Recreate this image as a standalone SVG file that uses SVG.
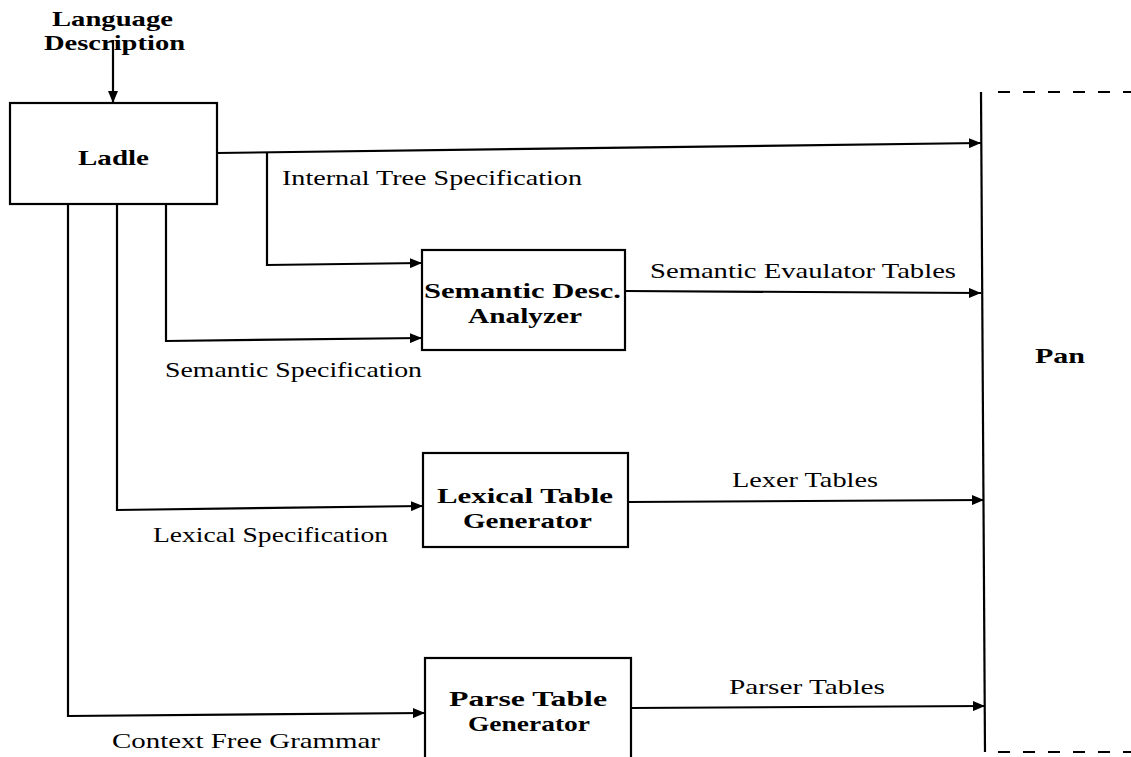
<svg xmlns="http://www.w3.org/2000/svg" width="1131" height="757" viewBox="0 0 1131 757">
<style>
.box{fill:#fff;stroke:#000;stroke-width:2.2}
.ln{fill:none;stroke:#000;stroke-width:2.2}
.dash{fill:none;stroke:#000;stroke-width:2.2;stroke-dasharray:12 13}
.bl{font-family:"Liberation Serif",serif;font-weight:bold;font-size:22px;fill:#000}
.el{font-family:"Liberation Serif",serif;font-size:21px;fill:#000}
</style>
<defs>
<marker id="ah" viewBox="0 0 12 10" refX="12" refY="5" markerWidth="12" markerHeight="10" markerUnits="userSpaceOnUse" orient="auto">
<path d="M0,0 L12,5 L0,10 Z" fill="#000"/>
</marker>
</defs>
<rect width="1131" height="757" fill="#fff"/>

<g id="connectors">
<path class="ln" d="M113,40 L113,103" marker-end="url(#ah)"/>
<path class="ln" d="M217,153 L981,143" marker-end="url(#ah)"/>
<path class="ln" d="M267,152 L267,265 L422,263" marker-end="url(#ah)"/>
<path class="ln" d="M166,204 L166,341 L422,338" marker-end="url(#ah)"/>
<path class="ln" d="M117,204 L117,510 L423,506" marker-end="url(#ah)"/>
<path class="ln" d="M68,204 L68,716 L425,713" marker-end="url(#ah)"/>
<path class="ln" d="M625,291 L981,293" marker-end="url(#ah)"/>
<path class="ln" d="M628,502 L984,500" marker-end="url(#ah)"/>
<path class="ln" d="M631,708 L985,706" marker-end="url(#ah)"/>
<text class="el" x="282" y="185" textLength="300" lengthAdjust="spacingAndGlyphs">Internal Tree Specification</text>
<text class="el" x="650" y="278" textLength="306" lengthAdjust="spacingAndGlyphs">Semantic Evaulator Tables</text>
<text class="el" x="165" y="377" textLength="257" lengthAdjust="spacingAndGlyphs">Semantic Specification</text>
<text class="el" x="732" y="487" textLength="146" lengthAdjust="spacingAndGlyphs">Lexer Tables</text>
<text class="el" x="153" y="542" textLength="235" lengthAdjust="spacingAndGlyphs">Lexical Specification</text>
<text class="el" x="729" y="694" textLength="156" lengthAdjust="spacingAndGlyphs">Parser Tables</text>
<text class="el" x="112" y="748" textLength="268" lengthAdjust="spacingAndGlyphs">Context Free Grammar</text>
</g>

<g id="input-label">
<text class="bl" x="52" y="26" textLength="121" lengthAdjust="spacingAndGlyphs">Language</text>
<text class="bl" x="44" y="50" textLength="141" lengthAdjust="spacingAndGlyphs">Description</text>
</g>

<g id="ladle">
<rect class="box" x="10" y="103" width="207" height="101"/>
<text class="bl" x="78" y="165" textLength="71" lengthAdjust="spacingAndGlyphs">Ladle</text>
</g>

<g id="semantic-desc-analyzer">
<rect class="box" x="422" y="250" width="203" height="100"/>
<text class="bl" x="424" y="298" textLength="197" lengthAdjust="spacingAndGlyphs">Semantic Desc.</text>
<text class="bl" x="468" y="323" textLength="114" lengthAdjust="spacingAndGlyphs">Analyzer</text>
</g>

<g id="lexical-table-generator">
<rect class="box" x="423" y="453" width="205" height="94"/>
<text class="bl" x="437" y="503" textLength="176" lengthAdjust="spacingAndGlyphs">Lexical Table</text>
<text class="bl" x="463" y="528" textLength="129" lengthAdjust="spacingAndGlyphs">Generator</text>
</g>

<g id="parse-table-generator">
<rect class="box" x="425" y="658" width="206" height="120"/>
<text class="bl" x="449" y="706" textLength="158" lengthAdjust="spacingAndGlyphs">Parse Table</text>
<text class="bl" x="468" y="731" textLength="122" lengthAdjust="spacingAndGlyphs">Generator</text>
</g>

<g id="pan">
<path class="ln" d="M981,92 L985,752"/>
<path class="dash" d="M998,92 L1131,92"/>
<path class="dash" d="M998,752 L1131,752"/>
<text class="bl" x="1035" y="363" textLength="50" lengthAdjust="spacingAndGlyphs">Pan</text>
</g>
</svg>
